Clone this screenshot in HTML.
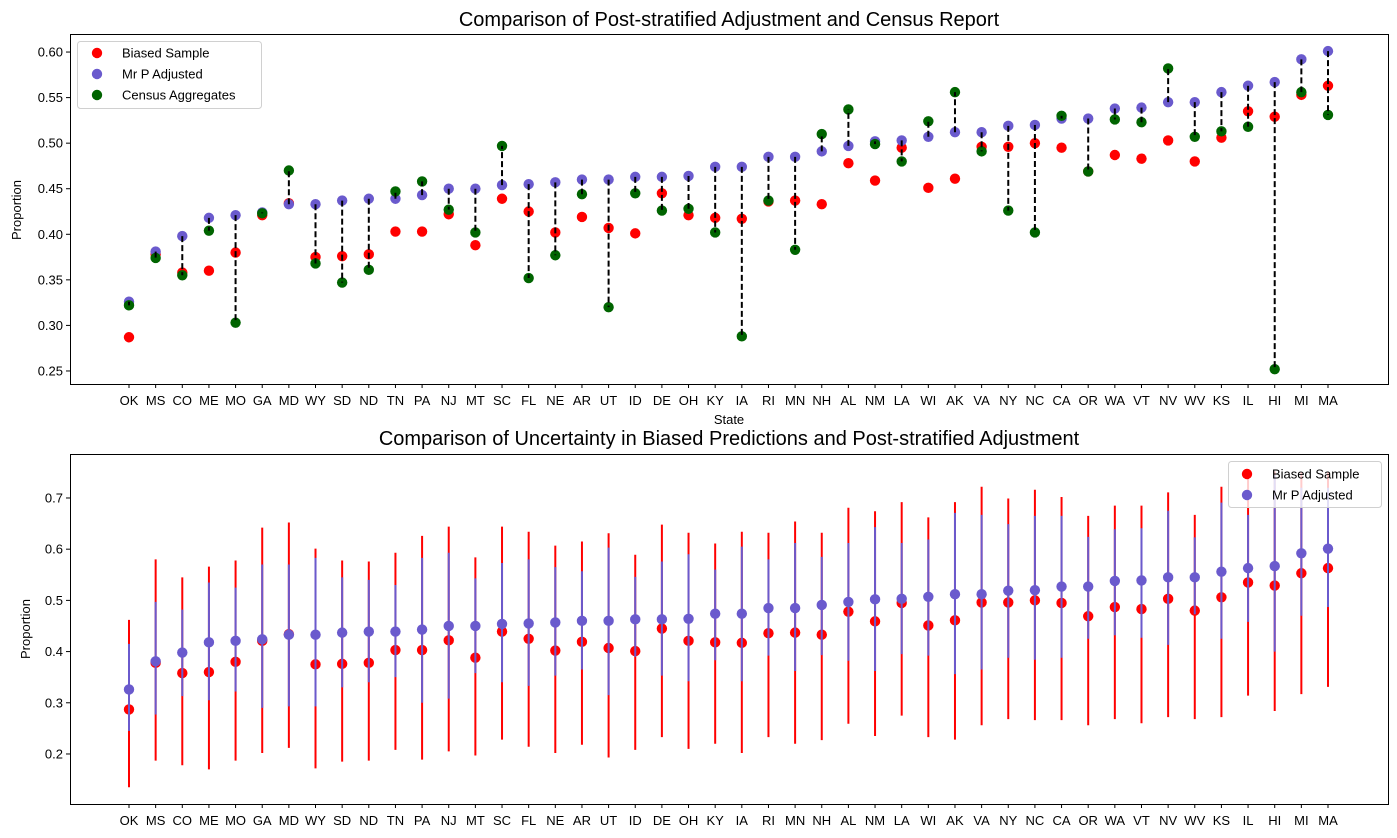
<!DOCTYPE html>
<html><head><meta charset="utf-8"><style>
body{margin:0;background:#fff;}
svg{display:block;font-family:"Liberation Sans","DejaVu Sans",sans-serif;}
</style></head><body>
<svg id="chart" width="1397" height="838" xmlns="http://www.w3.org/2000/svg"></svg>
<script>
const states=["OK","MS","CO","ME","MO","GA","MD","WY","SD","ND","TN","PA","NJ","MT","SC","FL","NE","AR","UT","ID","DE","OH","KY","IA","RI","MN","NH","AL","NM","LA","WI","AK","VA","NY","NC","CA","OR","WA","VT","NV","WV","KS","IL","HI","MI","MA"];
const biased=[0.287,0.378,0.358,0.360,0.380,0.421,0.434,0.375,0.376,0.378,0.403,0.403,0.422,0.388,0.439,0.425,0.402,0.419,0.407,0.401,0.445,0.421,0.418,0.417,0.436,0.437,0.433,0.478,0.459,0.495,0.451,0.461,0.496,0.496,0.500,0.495,0.469,0.487,0.483,0.503,0.480,0.506,0.535,0.529,0.553,0.563];
const mrp=[0.326,0.381,0.398,0.418,0.421,0.424,0.433,0.433,0.437,0.439,0.439,0.443,0.450,0.450,0.454,0.455,0.457,0.460,0.460,0.463,0.463,0.464,0.474,0.474,0.485,0.485,0.491,0.497,0.502,0.503,0.507,0.512,0.512,0.519,0.520,0.527,0.527,0.538,0.539,0.545,0.545,0.556,0.563,0.567,0.592,0.601];
const census=[0.322,0.374,0.355,0.404,0.303,0.423,0.470,0.368,0.347,0.361,0.447,0.458,0.427,0.402,0.497,0.352,0.377,0.444,0.320,0.445,0.426,0.428,0.402,0.288,0.437,0.383,0.510,0.537,0.499,0.480,0.524,0.556,0.491,0.426,0.402,0.530,0.469,0.526,0.523,0.582,0.507,0.513,0.518,0.252,0.556,0.531];
const biasedLow=[0.135,0.187,0.178,0.170,0.187,0.202,0.212,0.172,0.185,0.187,0.208,0.189,0.205,0.197,0.228,0.214,0.202,0.218,0.193,0.208,0.233,0.210,0.220,0.202,0.233,0.220,0.227,0.259,0.235,0.275,0.233,0.228,0.256,0.268,0.266,0.266,0.256,0.268,0.260,0.272,0.268,0.272,0.314,0.284,0.317,0.331];
const biasedHigh=[0.462,0.580,0.545,0.566,0.578,0.642,0.652,0.601,0.578,0.576,0.593,0.626,0.644,0.584,0.644,0.634,0.607,0.615,0.631,0.589,0.648,0.632,0.611,0.634,0.632,0.654,0.632,0.681,0.674,0.692,0.662,0.692,0.722,0.699,0.716,0.702,0.665,0.685,0.685,0.711,0.667,0.722,0.740,0.752,0.750,0.750];
const mrpLow=[0.245,0.277,0.313,0.305,0.322,0.290,0.293,0.293,0.330,0.340,0.350,0.300,0.308,0.358,0.340,0.333,0.353,0.365,0.315,0.390,0.353,0.342,0.383,0.342,0.392,0.362,0.393,0.382,0.362,0.395,0.392,0.356,0.365,0.388,0.384,0.388,0.425,0.432,0.427,0.413,0.473,0.425,0.458,0.400,0.470,0.487];
const mrpHigh=[0.415,0.497,0.482,0.535,0.525,0.570,0.570,0.583,0.545,0.540,0.530,0.583,0.593,0.543,0.573,0.580,0.565,0.557,0.603,0.546,0.576,0.590,0.560,0.605,0.580,0.612,0.585,0.612,0.643,0.612,0.619,0.671,0.667,0.649,0.665,0.665,0.624,0.639,0.641,0.675,0.623,0.691,0.667,0.745,0.720,0.720];
const topTicks=[0.25,0.30,0.35,0.40,0.45,0.50,0.55,0.60];
const botTicks=[0.2,0.3,0.4,0.5,0.6,0.7];

const NS="http://www.w3.org/2000/svg";
const svg=document.getElementById('chart');
function mk(tag,attrs,parent){const e=document.createElementNS(NS,tag);for(const k in attrs)e.setAttribute(k,attrs[k]);(parent||svg).appendChild(e);return e;}
const X0=70,X1=1388;
function xPos(i){return 129+i*(1328-129)/(states.length-1);}
const T={top:34,bottom:384,vmin:0.2357,vmax:0.6198};
const B={top:454,bottom:804,vmin:0.1023,vmax:0.7859};
function yT(v){return T.bottom-(v-T.vmin)/(T.vmax-T.vmin)*(T.bottom-T.top);}
function yB(v){return B.bottom-(v-B.vmin)/(B.vmax-B.vmin)*(B.bottom-B.top);}
function clipB(v){return Math.min(Math.max(v,B.vmin),B.vmax);}

function axesFrame(P,yf,ticks,fmt,name){
  const g=mk('g',{});
  
  
  ticks.forEach(t=>{
    const y=yf(t);
    const tk=mk('line',{x1:X0-4,x2:X0,y1:y,y2:y,stroke:'#000','stroke-width':1},g);
    
    
    const tx=mk('text',{x:X0-7,y:y+4.5,'text-anchor':'end','font-size':13},g);
    tx.textContent=fmt(t);
    
    
  });
  states.forEach((s,i)=>{
    const x=xPos(i);
    const tk=mk('line',{x1:x,x2:x,y1:P.bottom,y2:P.bottom+4,stroke:'#000','stroke-width':1},g);
    
    
    const tx=mk('text',{x:x,y:P.bottom+21,'text-anchor':'middle','font-size':13},g);
    tx.textContent=s;
    
    
  });
  return g;
}
function frameRect(P,name){
  const r=mk('rect',{x:X0+0.5,y:P.top+0.5,width:X1-X0,height:P.bottom-P.top,fill:'none',stroke:'#000','stroke-width':1});
  
  
}

// ---- Top chart ----
axesFrame(T,yT,topTicks,v=>v.toFixed(2),'top');
const gTop=mk('g',{});


biased.forEach((v,i)=>{const c=mk('circle',{cx:xPos(i),cy:yT(v),r:5.2,fill:'#ff0000'},gTop);});
mrp.forEach((v,i)=>{const c=mk('circle',{cx:xPos(i),cy:yT(v),r:5.2,fill:'#6a5acd'},gTop);});
census.forEach((v,i)=>{const c=mk('circle',{cx:xPos(i),cy:yT(v),r:5.2,fill:'#006400'},gTop);});
mrp.forEach((v,i)=>{const l=mk('line',{x1:xPos(i),x2:xPos(i),y1:yT(v),y2:yT(census[i]),stroke:'#000','stroke-width':2,'stroke-dasharray':'6,3'},gTop);});
frameRect(T,'top');

let t=mk('text',{x:729,y:26,'text-anchor':'middle','font-size':20});
t.textContent='Comparison of Post-stratified Adjustment and Census Report';

t=mk('text',{x:729,y:424,'text-anchor':'middle','font-size':13});
t.textContent='State';

t=mk('text',{x:21,y:210,'text-anchor':'middle','font-size':13,transform:'rotate(-90 21 210)'});
t.textContent='Proportion';


// top legend
const lg=mk('g',{});

mk('rect',{x:77.5,y:41.5,width:184,height:67,rx:3,fill:'#fff','fill-opacity':0.8,stroke:'#d0d0d0'},lg);
[['Biased Sample','#ff0000'],['Mr P Adjusted','#6a5acd'],['Census Aggregates','#006400']].forEach((e,k)=>{
  const y=53+k*21;
  const c=mk('circle',{cx:97,cy:y,r:5.2,fill:e[1]},lg);
  
  const tx=mk('text',{x:122,y:y+4.5,'font-size':13},lg);tx.textContent=e[0];
  
});

// ---- Bottom chart ----
axesFrame(B,yB,botTicks,v=>v.toFixed(1),'bottom');
const gB=mk('g',{});

biased.forEach((v,i)=>{
  const l=mk('line',{x1:xPos(i),x2:xPos(i),y1:yB(clipB(biasedLow[i])),y2:yB(clipB(biasedHigh[i])),stroke:'#ff0000','stroke-width':2},gB);
  
  const c=mk('circle',{cx:xPos(i),cy:yB(v),r:5.2,fill:'#ff0000'},gB);
  
});
mrp.forEach((v,i)=>{
  const l=mk('line',{x1:xPos(i),x2:xPos(i),y1:yB(clipB(mrpLow[i])),y2:yB(clipB(mrpHigh[i])),stroke:'#6a5acd','stroke-width':2},gB);
  
  const c=mk('circle',{cx:xPos(i),cy:yB(v),r:5.2,fill:'#6a5acd'},gB);
  
});
frameRect(B,'bottom');
t=mk('text',{x:729,y:445,'text-anchor':'middle','font-size':20});
t.textContent='Comparison of Uncertainty in Biased Predictions and Post-stratified Adjustment';

t=mk('text',{x:30,y:629,'text-anchor':'middle','font-size':13,transform:'rotate(-90 30 629)'});
t.textContent='Proportion';


const lg2=mk('g',{});

mk('rect',{x:1228.5,y:461.5,width:153,height:46,rx:3,fill:'#fff','fill-opacity':0.8,stroke:'#d0d0d0'},lg2);
[['Biased Sample','#ff0000'],['Mr P Adjusted','#6a5acd']].forEach((e,k)=>{
  const y=474+k*21;
  const c=mk('circle',{cx:1247,cy:y,r:5.2,fill:e[1]},lg2);
  
  const tx=mk('text',{x:1272,y:y+4.5,'font-size':13},lg2);tx.textContent=e[0];
  
});
</script>
</body></html>
